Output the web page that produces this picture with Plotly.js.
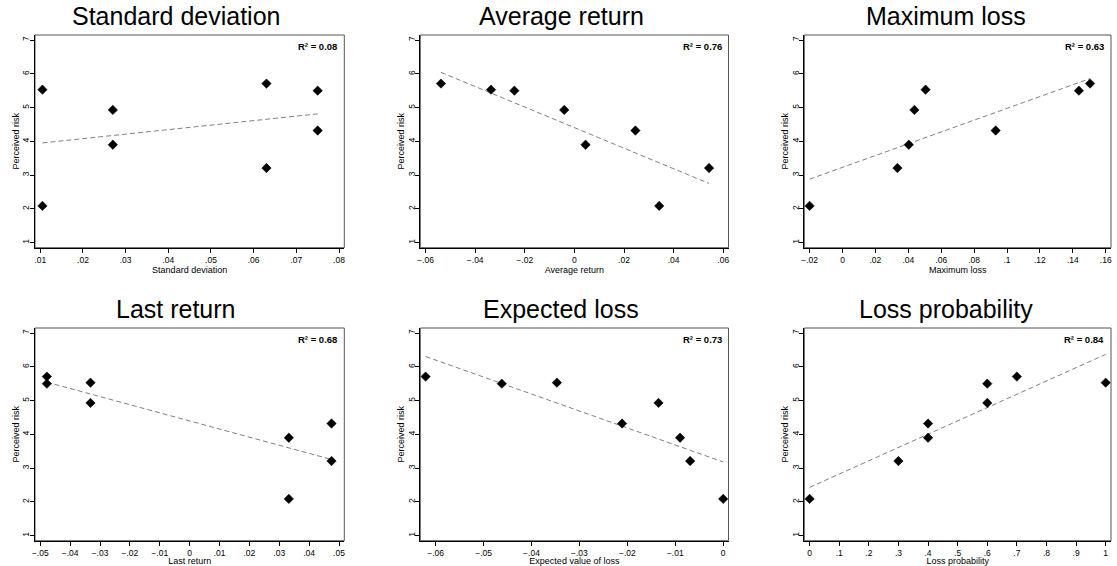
<!DOCTYPE html>
<html>
<head>
<meta charset="utf-8">
<script src="https://cdn.plot.ly/plotly-3.0.1.min.js"></script>
<style>html,body{margin:0;padding:0;background:#fff;}#chart{width:1117px;height:566px;}</style>
</head>
<body>
<div id="chart"></div>
<script>
// ---- Data ----
const perceivedRisk = [5.71, 5.53, 5.50, 4.93, 4.32, 3.90, 3.21, 2.09];
const stdDev        = [0.063, 0.0105, 0.075, 0.027, 0.075, 0.027, 0.063, 0.0105];
const avgReturn     = [-0.0538, -0.0336, -0.0242, -0.0041, 0.0246, 0.0045, 0.0543, 0.0342];
const maxLoss       = [0.1505, 0.0505, 0.1437, 0.0437, 0.0931, 0.0403, 0.0334, -0.02];
const lastReturn    = [-0.0478, -0.0332, -0.0478, -0.0332, 0.0475, 0.0332, 0.0475, 0.0332];
const expectedLoss  = [-0.0621, -0.0347, -0.0462, -0.0135, -0.0211, -0.0090, -0.0069, 0];
const lossProb      = [0.7, 1.0, 0.6, 0.6, 0.4, 0.4, 0.3, 0];

const panelTitles = ["Standard deviation", "Average return", "Maximum loss",
                     "Last return", "Expected loss", "Loss probability"];
const xTitles = ["Standard deviation", "Average return", "Maximum loss",
                 "Last return", "Expected value of loss", "Loss probability"];
const rSquaredLabels = ["0.08", "0.76", "0.63", "0.68", "0.73", "0.84"];
const yTitle = "Perceived risk";

const ticksSD   = [0.01, 0.02, 0.03, 0.04, 0.05, 0.06, 0.07, 0.08];
const labelsSD  = [".01", ".02", ".03", ".04", ".05", ".06", ".07", ".08"];
const ticksAR   = [-0.06, -0.04, -0.02, 0, 0.02, 0.04, 0.06];
const labelsAR  = ["\u2212.06", "\u2212.04", "\u2212.02", "0", ".02", ".04", ".06"];
const ticksML   = [-0.02, 0, 0.02, 0.04, 0.06, 0.08, 0.1, 0.12, 0.14, 0.16];
const labelsML  = ["\u2212.02", "0", ".02", ".04", ".06", ".08", ".1", ".12", ".14", ".16"];
const ticksLR   = [-0.05, -0.04, -0.03, -0.02, -0.01, 0, 0.01, 0.02, 0.03, 0.04, 0.05];
const labelsLR  = ["\u2212.05", "\u2212.04", "\u2212.03", "\u2212.02", "\u2212.01", "0", ".01", ".02", ".03", ".04", ".05"];
const ticksEL   = [-0.06, -0.05, -0.04, -0.03, -0.02, -0.01, 0];
const labelsEL  = ["\u2212.06", "\u2212.05", "\u2212.04", "\u2212.03", "\u2212.02", "\u2212.01", "0"];
const ticksLP   = [0, 0.1, 0.2, 0.3, 0.4, 0.5, 0.6, 0.7, 0.8, 0.9, 1];
const labelsLP  = ["0", ".1", ".2", ".3", ".4", ".5", ".6", ".7", ".8", ".9", "1"];
const yTicks    = [1, 2, 3, 4, 5, 6, 7];
const yLabels   = ["1", "2", "3", "4", "5", "6", "7"];

// ---- Build ----
const W = 1117, H = 566;
const FONT = "Liberation Sans, Arial, Helvetica, sans-serif";
const xSeries = [stdDev, avgReturn, maxLoss, lastReturn, expectedLoss, lossProb];
const xTicks = [ticksSD, ticksAR, ticksML, ticksLR, ticksEL, ticksLP];
const xLabels = [labelsSD, labelsAR, labelsML, labelsLR, labelsEL, labelsLP];

// panel boxes in pixels [left, right] / [top, bottom]
const colPx = [[35, 344.3], [420.3, 728.5], [804.3, 1111]];
const rowPx = [[35, 247.7], [328, 540.7]];
const padPx = 5.3;

function ols(x, y) {
  const n = x.length;
  const mx = x.reduce((a, b) => a + b, 0) / n;
  const my = y.reduce((a, b) => a + b, 0) / n;
  let sxy = 0, sxx = 0;
  for (let i = 0; i < n; i++) { sxy += (x[i] - mx) * (y[i] - my); sxx += (x[i] - mx) ** 2; }
  const b = sxy / sxx;
  return { a: my - b * mx, b: b };
}

const traces = [];
const layout = {
  width: W, height: H,
  margin: { l: 0, r: 0, t: 0, b: 0 },
  paper_bgcolor: "#fff", plot_bgcolor: "#fff",
  showlegend: false,
  font: { family: FONT, color: "#000", size: 9 },
  annotations: [], shapes: []
};

for (let p = 0; p < 6; p++) {
  const col = p % 3, row = Math.floor(p / 3);
  const idx = p + 1;
  const xa = "x" + (idx === 1 ? "" : idx), ya = "y" + (idx === 1 ? "" : idx);
  const xKey = "xaxis" + (idx === 1 ? "" : idx), yKey = "yaxis" + (idx === 1 ? "" : idx);
  const [L, R] = colPx[col];
  const [T, B] = rowPx[row];
  const xs = xSeries[p];
  const xt = xTicks[p];
  const xmin = Math.min(xt[0], ...xs), xmax = Math.max(xt[xt.length - 1], ...xs);
  const xpad = padPx * (xmax - xmin) / (R - L - 2 * padPx);
  const ypad = 5 * 6 / (B - T - 10);

  const fit = ols(xs, perceivedRisk);
  const lo = Math.min(...xs), hi = Math.max(...xs);

  traces.push({
    x: [lo, hi], y: [fit.a + fit.b * lo, fit.a + fit.b * hi],
    xaxis: xa, yaxis: ya, type: "scatter", mode: "lines",
    line: { color: "#808080", width: 1, dash: "5px,3px" }, hoverinfo: "skip"
  });
  traces.push({
    x: xs, y: perceivedRisk, xaxis: xa, yaxis: ya, type: "scatter", mode: "markers",
    marker: { symbol: "diamond", size: 7.2, color: "#000", line: { width: 0.6, color: "#000" } },
    cliponaxis: false
  });

  layout[xKey] = {
    domain: [L / W, R / W], anchor: ya,
    range: [xmin - xpad, xmax + xpad],
    tickmode: "array", tickvals: xt, ticktext: xLabels[p],
    ticks: "outside", ticklen: 4, tickwidth: 1, tickcolor: "#000",
    showline: true, linecolor: "#000", linewidth: 1.3,
    showgrid: false, zeroline: false,
    tickfont: { family: FONT, size: 8.5, color: "#000" },
    title: { text: xTitles[p], font: { family: FONT, size: 9, color: "#000" }, standoff: 0 },
    fixedrange: true
  };
  layout[yKey] = {
    domain: [1 - B / H, 1 - T / H], anchor: xa,
    range: [1 - ypad, 7 + ypad],
    tickmode: "array", tickvals: yTicks, ticktext: yLabels, tickangle: -90,
    ticks: "outside", ticklen: 4, tickwidth: 1, tickcolor: "#000",
    ticklabelstandoff: -3,
    showline: true, linecolor: "#000", linewidth: 1.3,
    showgrid: false, zeroline: false,
    tickfont: { family: FONT, size: 8.5, color: "#000" },
    title: { text: yTitle, font: { family: FONT, size: 9, color: "#000" }, standoff: 0 },
    fixedrange: true
  };

  layout.shapes.push({
    type: "rect", xref: xa + " domain", yref: ya + " domain",
    x0: 0, x1: 1, y0: 0, y1: 1, line: { color: "#555", width: 1 }, layer: "below"
  });

  layout.annotations.push({
    xref: xa + " domain", yref: ya + " domain", x: 1, y: 1,
    xanchor: "right", yanchor: "top", xshift: -5, yshift: -4, showarrow: false,
    text: "<b>R\u00B2 = " + rSquaredLabels[p] + "</b>",
    font: { family: FONT, size: 9.5, color: "#000" }
  });

  const titleCx = [175.5, 561.4, 945.8][col];
  const titleCy = [16.3, 308.8][row];
  layout.annotations.push({
    xref: "paper", yref: "paper", x: titleCx / W, y: 1 - titleCy / H,
    xanchor: "center", yanchor: "middle", showarrow: false,
    text: panelTitles[p], font: { family: FONT, size: 25, color: "#000" }
  });
}

Plotly.newPlot("chart", traces, layout, { staticPlot: true, displayModeBar: false });
</script>
</body>
</html>
